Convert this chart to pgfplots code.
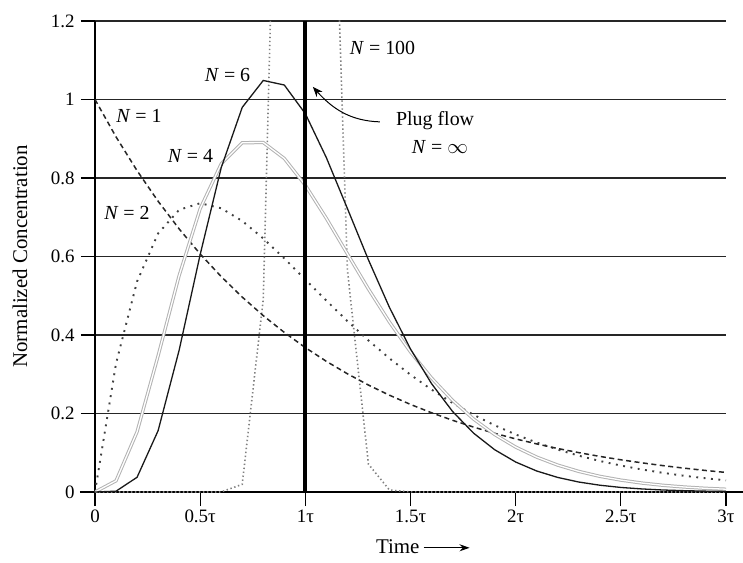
\documentclass[border=0pt]{standalone}
\usepackage{fontspec}
\setmainfont{Liberation Serif}
\usepackage{pgfplots}
\pgfplotsset{compat=1.18}
\usetikzlibrary{arrows.meta}
\begin{document}
\begin{tikzpicture}
\begin{axis}[
  name=ax,
  scale only axis, width=631bp, height=471bp,
  xmin=0, xmax=3, ymin=0, ymax=1.2,
  axis lines=left,
  axis line style={-, line width=1.2bp, black},
  x axis line style={shorten <=-15bp, shorten >=-17bp},
  xtick={0,0.5,1,1.5,2,2.5,3},
  xticklabels={0,0.5τ,1τ,1.5τ,2τ,2.5τ,3τ},
  ytick={0,0.2,0.4,0.6,0.8,1,1.2},
  yticklabels={0,0.2,0.4,0.6,0.8,1,1.2},
  tick align=outside, major tick length=14bp,
  tick style={line width=1.2bp, black},
  ymajorgrids, grid style={line width=1.3bp, black!85},
  ticklabel style={font=\fontsize{19}{21}\selectfont},
  yticklabel style={xshift=-3bp},
  xlabel={Time\,\tikz[baseline=-0.55ex]\draw[line width=1.2bp,-{Stealth[length=10bp,width=7bp]}] (0,0)--(46bp,0);},
  ylabel={Normalized Concentration},
  label style={font=\fontsize{21}{24}\selectfont},
  xlabel style={at={(ticklabel cs:0.52)}, anchor=north, yshift=-10bp},
  ylabel style={at={(axis description cs:-0.119,0.5)}, anchor=center},
]
% N = 100
\addplot[gray, line width=1.6bp, dash pattern=on 1.4bp off 2.6bp] coordinates {
(0,0) (0.1,0) (0.2,0) (0.3,0) (0.4,0) (0.5,0) (0.6,0.0001) (0.7,0.0196) (0.8,0.491) (0.9,2.58) (1.0,3.98) (1.1,2.26) (1.2,0.566) (1.3,0.0709) (1.4,0.005) (1.5,0.0002) (1.6,0) (1.7,0) (1.8,0) (1.9,0) (2.0,0) (2.1,0) (2.2,0) (2.3,0) (2.4,0) (2.5,0) (2.6,0) (2.7,0) (2.8,0) (2.9,0) (3.0,0)};
% N = 2
\addplot[black!75, line width=1.9bp, dash pattern=on 1.9bp off 5.5bp] coordinates {
(0,0) (0.1,0.3275) (0.2,0.5363) (0.3,0.6586) (0.4,0.7189) (0.5,0.7358) (0.6,0.7229) (0.7,0.6905) (0.8,0.6460) (0.9,0.5951) (1.0,0.5413) (1.1,0.4876) (1.2,0.4355) (1.3,0.3862) (1.4,0.3405) (1.5,0.2987) (1.6,0.2609) (1.7,0.2269) (1.8,0.1967) (1.9,0.1700) (2.0,0.1465) (2.1,0.1260) (2.2,0.1081) (2.3,0.0925) (2.4,0.0790) (2.5,0.0674) (2.6,0.0574) (2.7,0.0488) (2.8,0.0414) (2.9,0.0351) (3.0,0.0297)};
% N = 1
\addplot[black!85, line width=1.5bp, dash pattern=on 5bp off 3.5bp] coordinates {
(0,1) (0.1,0.9048) (0.2,0.8187) (0.3,0.7408) (0.4,0.6703) (0.5,0.6065) (0.6,0.5488) (0.7,0.4966) (0.8,0.4493) (0.9,0.4066) (1.0,0.3679) (1.1,0.3329) (1.2,0.3012) (1.3,0.2725) (1.4,0.2466) (1.5,0.2231) (1.6,0.2019) (1.7,0.1827) (1.8,0.1653) (1.9,0.1496) (2.0,0.1353) (2.1,0.1225) (2.2,0.1108) (2.3,0.1003) (2.4,0.0907) (2.5,0.0821) (2.6,0.0743) (2.7,0.0672) (2.8,0.0608) (2.9,0.0550) (3.0,0.0498)};
% N = 4
\addplot[draw=black!30, line width=1bp, double=white, double distance=1.3bp] coordinates {
(0,0) (0.1,0.0286) (0.2,0.1534) (0.3,0.3470) (0.4,0.5513) (0.5,0.7218) (0.6,0.8361) (0.7,0.8899) (0.8,0.8904) (0.9,0.8498) (1.0,0.7815) (1.1,0.6972) (1.2,0.6068) (1.3,0.5171) (1.4,0.4329) (1.5,0.3569) (1.6,0.2904) (1.7,0.2335) (1.8,0.1858) (1.9,0.1465) (2.0,0.1145) (2.1,0.0889) (2.2,0.0685) (2.3,0.0525) (2.4,0.0399) (2.5,0.0303) (2.6,0.0228) (2.7,0.0171) (2.8,0.0128) (2.9,0.0095) (3.0,0.0071)};
% N = 6
\addplot[black!90, line width=1.3bp] coordinates {
(0,0) (0.1,0.0021) (0.2,0.0375) (0.3,0.1562) (0.4,0.3612) (0.5,0.6049) (0.6,0.8261) (0.7,0.9799) (0.8,1.0485) (0.9,1.0369) (1.0,0.9638) (1.1,0.8518) (1.2,0.7223) (1.3,0.5915) (1.4,0.4702) (1.5,0.3644) (1.6,0.2761) (1.7,0.2052) (1.8,0.1499) (1.9,0.1078) (2.0,0.0764) (2.1,0.0535) (2.2,0.0371) (2.3,0.0254) (2.4,0.0173) (2.5,0.0116) (2.6,0.0078) (2.7,0.0051) (2.8,0.0034) (2.9,0.0022) (3.0,0.0014)};
% Plug flow
\addplot[black, line width=4bp] coordinates {(1,0) (1,1.2)};
\begin{scope}[every node/.style={font=\fontsize{20}{24}\selectfont, inner sep=0pt}]
\node at (axis cs:0.209,0.958) {\textit{N} = 1};
\node at (axis cs:0.152,0.710) {\textit{N} = 2};
\node at (axis cs:0.454,0.855) {\textit{N} = 4};
\node at (axis cs:0.630,1.062) {\textit{N} = 6};
\node at (axis cs:1.367,1.130) {\textit{N} = 100};
\node at (axis cs:1.617,0.945) {Plug flow};
\node at (axis cs:1.640,0.880) {\textit{N} = $\infty$};
\end{scope}
\draw[black, line width=1bp, -{Stealth[length=10bp,width=8bp]}] (axis cs:1.354,0.943) to[out=178, in=-48] (axis cs:1.036,1.032);
\end{axis}
\pgfresetboundingbox
\path[use as bounding box] ([xshift=-95bp,yshift=-71bp]ax.south west) rectangle ([xshift=17bp,yshift=21bp]ax.north east);
\end{tikzpicture}
\end{document}
